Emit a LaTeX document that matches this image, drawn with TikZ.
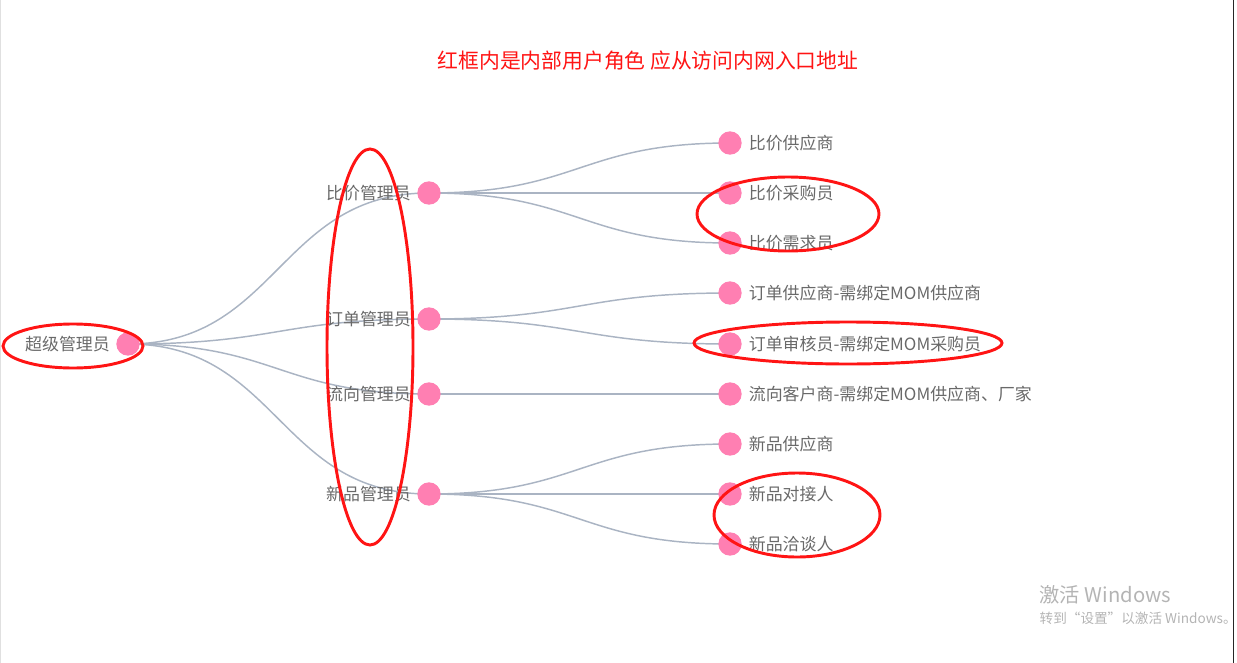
\documentclass[tikz,border=0pt]{standalone}
\usepackage{fontspec}
\setmainfont{Noto Sans CJK SC}
\usepackage{tikz}
\usetikzlibrary{positioning,backgrounds}
\definecolor{dotpink}{RGB}{255,127,178}
\definecolor{linkgray}{RGB}{170,180,195}
\definecolor{labgray}{RGB}{105,105,105}
\definecolor{markred}{RGB}{255,20,20}
\definecolor{winegray}{RGB}{180,180,180}

\begin{document}
\begin{tikzpicture}[x=0.75pt, y=-0.75pt,
    dot/.style={circle, fill=dotpink, inner sep=0pt, minimum size=17.5pt},
    lab/.style={inner sep=0pt, text=labgray, font=\fontsize{12.7}{14}\selectfont},
    link/.style={draw=linkgray, line width=1.1pt},
    ring/.style={draw=markred, line width=2.2pt}]
        \useasboundingbox (0,0) rectangle (1237,663);
        \draw[black!12, line width=1pt] (0.7,0) -- (0.7,663);
        \draw[black!85, line width=1pt] (1233.5,0) -- (1233.5,663);

        \node[text=markred, font=\fontsize{15.6}{18}\selectfont] (title) at (648,61) {红框内是内部用户角色 应从访问内网入口地址};

        \node[dot] (root) at (128,344) {};
        \node[dot] (bj)   at (429,193) {};
        \node[dot] (dd)   at (429,319) {};
        \node[dot] (lx)   at (429,394) {};
        \node[dot] (xp)   at (429,494) {};

        \node[dot] (bj1) at (730,143) {};
        \node[dot] (bj2) at (730,193) {};
        \node[dot] (bj3) at (730,243) {};
        \node[dot] (dd1) at (730,293) {};
        \node[dot] (dd2) at (730,344) {};
        \node[dot] (lx1) at (730,394) {};
        \node[dot] (xp1) at (730,444) {};
        \node[dot] (xp2) at (730,494) {};
        \node[dot] (xp3) at (730,544) {};

        \begin{pgfonlayer}{background}
        \foreach \kid in {bj,dd,lx,xp}
          \draw[link] (root.center) .. controls +(150,0) and +(-150,0) .. (\kid.center);
        \foreach \up/\kid in {bj/bj1,bj/bj2,bj/bj3,dd/dd1,dd/dd2,lx/lx1,xp/xp1,xp/xp2,xp/xp3}
          \draw[link] (\up.center) .. controls +(150,0) and +(-150,0) .. (\kid.center);
        \end{pgfonlayer}

        \node[lab, left=4.5pt of root] (rootl) {超级管理员};
        \node[lab, left=4.5pt of bj] (bjl) {比价管理员};
        \node[lab, left=4.5pt of dd] (ddl) {订单管理员};
        \node[lab, left=4.5pt of lx] (lxl) {流向管理员};
        \node[lab, left=4.5pt of xp] (xpl) {新品管理员};

        \node[lab, right=5pt of bj1] (bj1l) {比价供应商};
        \node[lab, right=5pt of bj2] (bj2l) {比价采购员};
        \node[lab, right=5pt of bj3] (bj3l) {比价需求员};
        \node[lab, right=5pt of dd1] (dd1l) {订单供应商-需绑定MOM供应商};
        \node[lab, right=5pt of dd2] (dd2l) {订单审核员-需绑定MOM采购员};
        \node[lab, right=5pt of lx1] (lx1l) {流向客户商-需绑定MOM供应商、厂家};
        \node[lab, right=5pt of xp1] (xp1l) {新品供应商};
        \node[lab, right=5pt of xp2] (xp2l) {新品对接人};
        \node[lab, right=5pt of xp3] (xp3l) {新品洽谈人};

        \draw[ring] (73,346) ellipse [x radius=70, y radius=22];
        \draw[ring] (370,347) ellipse [x radius=43, y radius=198];
        \draw[ring] (788,214) ellipse [x radius=91, y radius=37];
        \draw[ring] (848,343) ellipse [x radius=154, y radius=21];
        \draw[ring] (797,515) ellipse [x radius=83, y radius=42];

        \node[anchor=west, text=winegray, font=\fontsize{15.2}{17}\selectfont] (wm1) at (1035,595) {激活 Windows};
        \node[anchor=west, text=winegray, font=\fontsize{10.2}{12}\selectfont] (wm2) at (1035,618) {转到“设置”以激活 Windows。};
      \end{tikzpicture}
\end{document}
